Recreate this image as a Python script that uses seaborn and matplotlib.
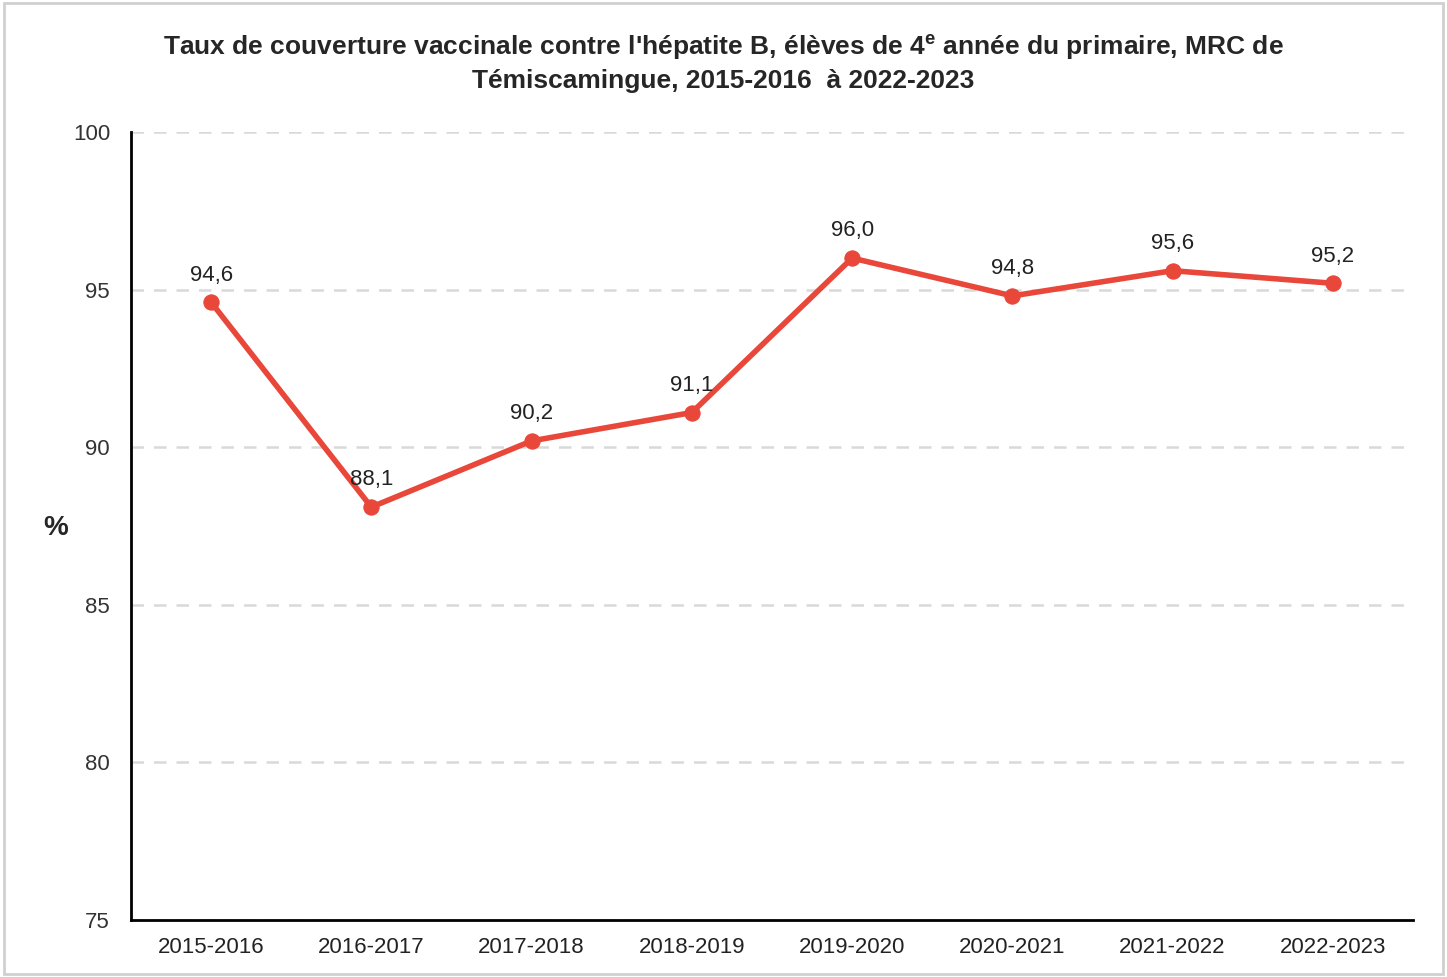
import matplotlib
matplotlib.use("Agg")
import matplotlib.pyplot as plt
import seaborn as sns
import pandas as pd
from matplotlib.patches import Rectangle

# Data
years = ["2015-2016", "2016-2017", "2017-2018", "2018-2019",
         "2019-2020", "2020-2021", "2021-2022", "2022-2023"]
taux = [94.6, 88.1, 90.2, 91.1, 96.0, 94.8, 95.6, 95.2]
y_ticks = [75, 80, 85, 90, 95, 100]

df = pd.DataFrame({"annee": years, "taux": taux})

sns.set_style("white")
plt.rcParams['font.family'] = ['Liberation Sans Narrow', 'Liberation Sans', 'DejaVu Sans']
plt.rcParams['mathtext.default'] = 'regular'

rouge = "#E8473A"

fig = plt.figure(figsize=(14.47, 9.77), dpi=100)
ax = fig.add_axes([0.0905, 0.0583, 0.886, 0.8066])

x = list(range(len(years)))
sns.lineplot(x=x, y=df["taux"], ax=ax, color=rouge, linewidth=4,
             marker="o", markersize=11, markeredgecolor=rouge)

# étiquettes de données
for xi, v in zip(x, taux):
    ax.annotate(f"{v:.1f}".replace(".", ","), (xi, v), xytext=(0, 12),
                textcoords="offset points", ha="center", va="bottom",
                fontsize=16, color="#222222")

ax.set_xlim(-0.5, len(years) - 0.5)
ax.set_ylim(75, 100)
ax.set_yticks(y_ticks)
ax.set_yticklabels([str(t) for t in y_ticks], fontsize=16, color="#333333")
ax.yaxis.grid(True, linestyle=(0, (5, 4)), color="#d9d9d9", linewidth=1.8)
ax.set_axisbelow(True)

# ticks aux frontières, libellés au centre
ax.set_xticks([i - 0.5 for i in range(len(years) + 1)])
ax.set_xticklabels([])
ax.set_xticks(x, minor=True)
ax.set_xticklabels(years, minor=True, fontsize=16, color="#222222")
ax.tick_params(axis="x", which="major", direction="out", length=8, width=2, color="black")
ax.tick_params(axis="x", which="minor", length=0, pad=12)
ax.tick_params(axis="y", length=0, pad=15)

for s in ["top", "right"]:
    ax.spines[s].set_visible(False)
for s in ["left", "bottom"]:
    ax.spines[s].set_color("black")
    ax.spines[s].set_linewidth(2)

ax.set_xlabel("")
ax.set_ylabel("%", fontsize=20, fontweight="bold", rotation=0, va="center", ha="center")
ax.yaxis.set_label_coords(-0.059, 0.497)

fig.suptitle("Taux de couverture vaccinale contre l'hépatite B, élèves de 4$^{e}$ année du primaire, MRC de\nTémiscamingue, 2015-2016  à 2022-2023",
             fontsize=19, fontweight="bold", y=0.966, linespacing=1.35)

fig.patches.append(Rectangle((0.003, 0.003), 0.994, 0.994, transform=fig.transFigure,
                             fill=False, edgecolor="#d0d0d0", linewidth=2))

fig.savefig("out.png", dpi=100)
